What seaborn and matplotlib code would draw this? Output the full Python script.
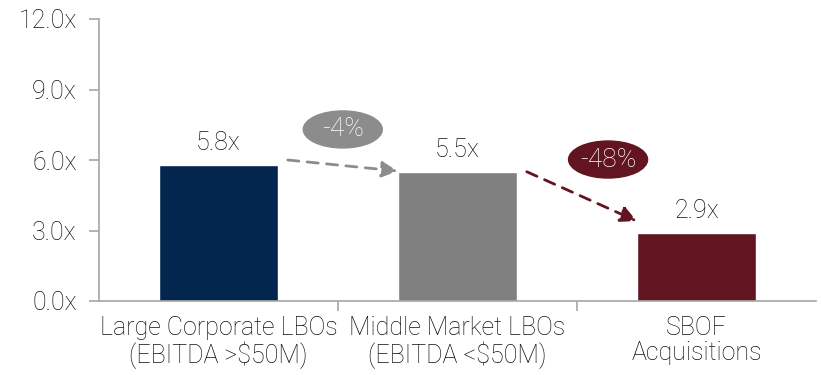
import matplotlib
matplotlib.use("Agg")
import matplotlib.pyplot as plt
from matplotlib.patches import Ellipse
import seaborn as sns
import pandas as pd

categories = ["Large Corporate LBOs\n(EBITDA >$50M)",
              "Middle Market LBOs\n(EBITDA <$50M)",
              "SBOF\nAcquisitions"]
multiples = [5.8, 5.5, 2.9]
bar_colors = ["#03264F", "#808080", "#621520"]
change_labels = ["-4%", "-48%"]
y_ticks = [0, 3, 6, 9, 12]

sns.set_theme(style="white")
plt.rcParams["font.family"] = ["Roboto", "DejaVu Sans"]
plt.rcParams["font.weight"] = "light"

FS = 18
TEXT = "#111111"

df = pd.DataFrame({"category": categories, "multiple": multiples})

fig = plt.figure(figsize=(8.21, 3.75), dpi=100)
ax = fig.add_axes([99 / 821, 1 - 301 / 375, (816 - 99) / 821, (301 - 19) / 375])

sns.barplot(data=df, x="category", y="multiple", hue="category",
            palette=bar_colors, width=0.5, legend=False, ax=ax,
            saturation=1)

ax.set_xlim(-0.5, 2.5)
ax.set_ylim(0, 12)
ax.set_yticks(y_ticks)
ax.set_yticklabels([f"{v:.1f}x" for v in y_ticks])
ax.set_xlabel("")
ax.set_ylabel("")

spine_color = "#A6A6A6"
for side in ["top", "right"]:
    ax.spines[side].set_visible(False)
for side in ["left", "bottom"]:
    ax.spines[side].set_color(spine_color)
    ax.spines[side].set_linewidth(1.2)

ax.tick_params(axis="y", which="major", direction="out", length=7,
               width=1.2, color=spine_color, labelsize=FS, pad=9,
               labelcolor=TEXT, left=True)
ax.tick_params(axis="x", which="major", length=0, labelsize=FS, pad=11,
               labelcolor=TEXT)
for lbl in ax.get_xticklabels():
    lbl.set_linespacing(1.05)
ax.set_xticks([0.5, 1.5], minor=True)
ax.tick_params(axis="x", which="minor", direction="out", length=7,
               width=1.2, color=spine_color, bottom=True)

# value labels above the bars
for i, v in enumerate(multiples):
    ax.annotate(f"{v:.1f}x", (i, v), xytext=(0, 7), textcoords="offset points",
                ha="center", va="bottom", fontsize=FS, color=TEXT)

# dashed arrows between bars with percentage change bubbles
arrow_specs = [
    ((0.29, 6.0), (0.75, 5.53), "#8C8C8C", (0.52, 7.3)),
    ((1.29, 5.5), (1.75, 3.4), "#621520", (1.63, 6.02)),
]
for (start, end, col, bubble), label in zip(arrow_specs, change_labels):
    ax.annotate("", xy=end, xytext=start,
                arrowprops=dict(arrowstyle="-|>,head_length=0.8,head_width=0.4",
                                color=col, lw=2, linestyle=(0, (4, 3)),
                                shrinkA=0, shrinkB=0))
    ell = Ellipse(bubble, width=79 / 239, height=37 / 23.5, color=col, zorder=3)
    ax.add_patch(ell)
    ax.text(bubble[0], bubble[1], label, ha="center", va="center",
            fontsize=FS + 1, color="white", zorder=4)

fig.savefig("out.png", dpi=100)
